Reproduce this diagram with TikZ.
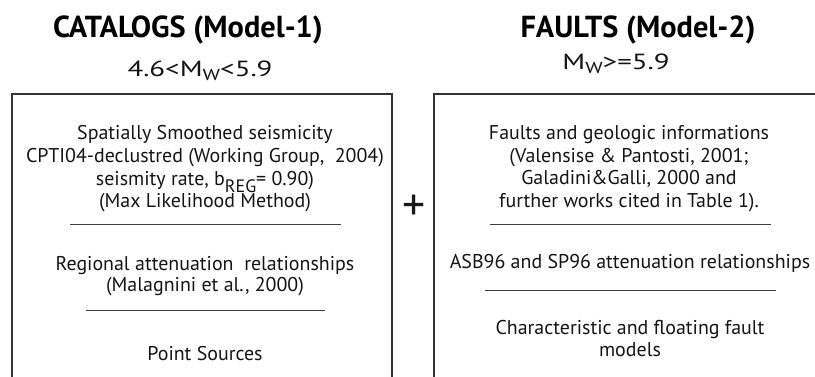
\documentclass[tikz,border=0pt]{standalone}
\usepackage{fontspec}
\usepackage{graphicx}
\setmainfont{PT Sans}
\newcommand{\lowsub}[3]{\raisebox{-#2}{\fontsize{#3}{#3}\selectfont #1}}
\newcommand{\widetext}[1]{\scalebox{1.32}[1]{#1}}
\tikzset{
  txt/.style={font=\fontsize{20}{23}\selectfont, anchor=base, inner sep=0pt, text=black!92},
  ttl/.style={font=\fontsize{30.5}{32}\selectfont\bfseries, anchor=base, inner sep=0pt},
  mag/.style={font=\fontsize{22}{24}\selectfont, anchor=base, inner sep=0pt, text=black!92},
  sepline/.style={draw=black!75, line width=0.9bp},
  frame/.style={draw=black!80, line width=1.6bp}
}
\begin{document}
\begin{tikzpicture}[x=1bp,y=-1bp]
\useasboundingbox (0,0) rectangle (815,376);
\begin{scope}
\clip (0,0) rectangle (815,376);
% titles
\node[ttl] (t1) at (188,37) {CATALOGS (Model-1)};
\node[mag] (m1) at (200,76) {\widetext{4.6<M\lowsub{W}{4bp}{16}<5.9}};
\node[ttl] (t2) at (638,37) {FAULTS (Model-2)};
\node[mag] (m2) at (616,69) {\widetext{M\lowsub{W}{4bp}{16}>=5.9}};
% frames (open at bottom)
\coordinate (lb1) at (12,380);
\coordinate (lt1) at (12,94);
\coordinate (rt1) at (392,94);
\coordinate (rb1) at (392,380);
\draw[frame] (lb1) -- (lt1) -- (rt1) -- (rb1);
\coordinate (lb2) at (434,380);
\coordinate (lt2) at (434,94);
\coordinate (rt2) at (820,94);
\draw[frame] (lb2) -- (lt2) -- (rt2);
% plus
\node[font=\fontsize{46}{46}\selectfont, inner sep=0pt, text=black!90] (plus) at (414,208) {+};
% left box
\node[txt] (a1) at (205,139) {Spatially Smoothed seismicity};
\node[txt] (a2) at (205,162) {CPTI04-declustred (Working Group,\ \ 2004)};
\node[txt] (a3) at (205,185) {seismity rate, b\lowsub{REG}{7bp}{18}= 0.90)};
\node[txt] (a4) at (205,207) {(Max Likelihood Method)};
\coordinate (s1a) at (70,224);
\coordinate (s1b) at (341,224);
\draw[sepline] (s1a) -- (s1b);
\node[txt] (a5) at (205,270) {Regional attenuation\ \ relationships};
\node[txt] (a6) at (205,291) {(Malagnini et al., 2000)};
\coordinate (s2a) at (86,310);
\coordinate (s2b) at (325,310);
\draw[sepline] (s2a) -- (s2b);
\node[txt] (a7) at (205,360) {Point Sources};
% right box
\node[txt] (b1) at (629,139) {Faults and geologic informations};
\node[txt] (b2) at (629,162) {(Valensise \& Pantosti, 2001;};
\node[txt] (b3) at (629,184) {Galadini\&Galli, 2000 and};
\node[txt] (b4) at (629,207) {further works cited in Table 1).};
\coordinate (s3a) at (490,224);
\coordinate (s3b) at (771,224);
\draw[sepline] (s3a) -- (s3b);
\node[txt] (b5) at (630,268) {ASB96 and SP96 attenuation relationships};
\coordinate (s4a) at (485,290);
\coordinate (s4b) at (776,290);
\draw[sepline] (s4a) -- (s4b);
\node[txt] (b6) at (630,334) {Characteristic and floating fault};
\node[txt] (b7) at (630,356) {models};
\end{scope}
\end{tikzpicture}
\end{document}
